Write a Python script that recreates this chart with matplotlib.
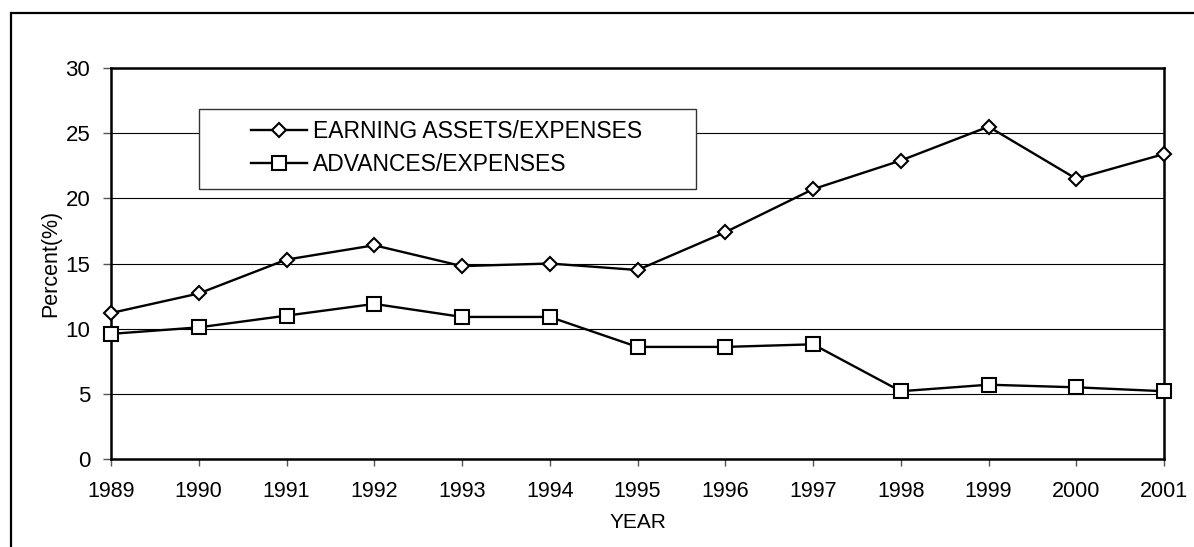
import matplotlib
matplotlib.use("Agg")
import matplotlib.pyplot as plt
from matplotlib.patches import Rectangle

plt.rcParams['font.family'] = ['Liberation Sans', 'DejaVu Sans']

years = [1989, 1990, 1991, 1992, 1993, 1994, 1995, 1996, 1997, 1998, 1999, 2000, 2001]
earning_assets = [11.2, 12.7, 15.3, 16.4, 14.8, 15.0, 14.5, 17.4, 20.7, 22.9, 25.5, 21.5, 23.4]
advances = [9.6, 10.1, 11.0, 11.9, 10.9, 10.9, 8.6, 8.6, 8.8, 5.2, 5.7, 5.5, 5.2]
series_labels = ["EARNING ASSETS/EXPENSES", "ADVANCES/EXPENSES"]
y_ticks = [0, 5, 10, 15, 20, 25, 30]

W, H = 1194, 547
fig = plt.figure(figsize=(W / 100, H / 100), dpi=100)

def fx(px):
    return px / W

def fy(py):
    return 1 - py / H

# outer chart border (cut at right and bottom)
fig.patches.append(Rectangle((fx(11), -0.1), 1.2, fy(13) + 0.1, transform=fig.transFigure,
                             fill=False, edgecolor='black', linewidth=1.6, zorder=0))

left, right, top, bottom = 111, 1164, 68, 459
ax = fig.add_axes([fx(left), fy(bottom), fx(right) - fx(left), fy(top) - fy(bottom)])

ax.plot(years, earning_assets, color='black', linewidth=1.7, marker='D', markersize=7.5,
        markerfacecolor='white', markeredgecolor='black', markeredgewidth=1.5,
        label=series_labels[0], zorder=3, clip_on=False)
ax.plot(years, advances, color='black', linewidth=1.7, marker='s', markersize=9.5,
        markerfacecolor='white', markeredgecolor='black', markeredgewidth=1.5,
        label=series_labels[1], zorder=3, clip_on=False)

ax.set_xlim(years[0], years[-1])
ax.set_ylim(0, 30)
ax.set_xticks(years)
ax.set_xticklabels([str(y) for y in years])
ax.set_yticks(y_ticks)
ax.yaxis.grid(True, color='black', linewidth=0.8)
ax.set_axisbelow(True)

for s in ax.spines.values():
    s.set_linewidth(1.8)
    s.set_color('black')

ax.tick_params(axis='x', direction='out', length=5, width=1, color='#555555', labelsize=15.5, pad=11)
ax.tick_params(axis='y', direction='out', length=6, width=1, color='#555555', labelsize=16, pad=9)

ax.set_xlabel("YEAR", fontsize=15, labelpad=8)
ax.set_ylabel("Percent(%)", fontsize=15.5, labelpad=3)

# legend box
box = Rectangle((fx(199), fy(189)), fx(696) - fx(199), fy(109) - fy(189), transform=fig.transFigure,
                facecolor='white', edgecolor='#333333', linewidth=1.0, zorder=2.5)
ax.add_artist(box)
box.set_clip_on(False)

leg = ax.legend(loc='upper left', bbox_to_anchor=(fx(251), fy(120)), bbox_transform=fig.transFigure,
                frameon=False, fontsize=16.5, handlelength=2.45, handletextpad=0.26, borderpad=0,
                labelspacing=0.42, borderaxespad=0)
leg.set_zorder(4)

fig.savefig("out.png", dpi=100)
